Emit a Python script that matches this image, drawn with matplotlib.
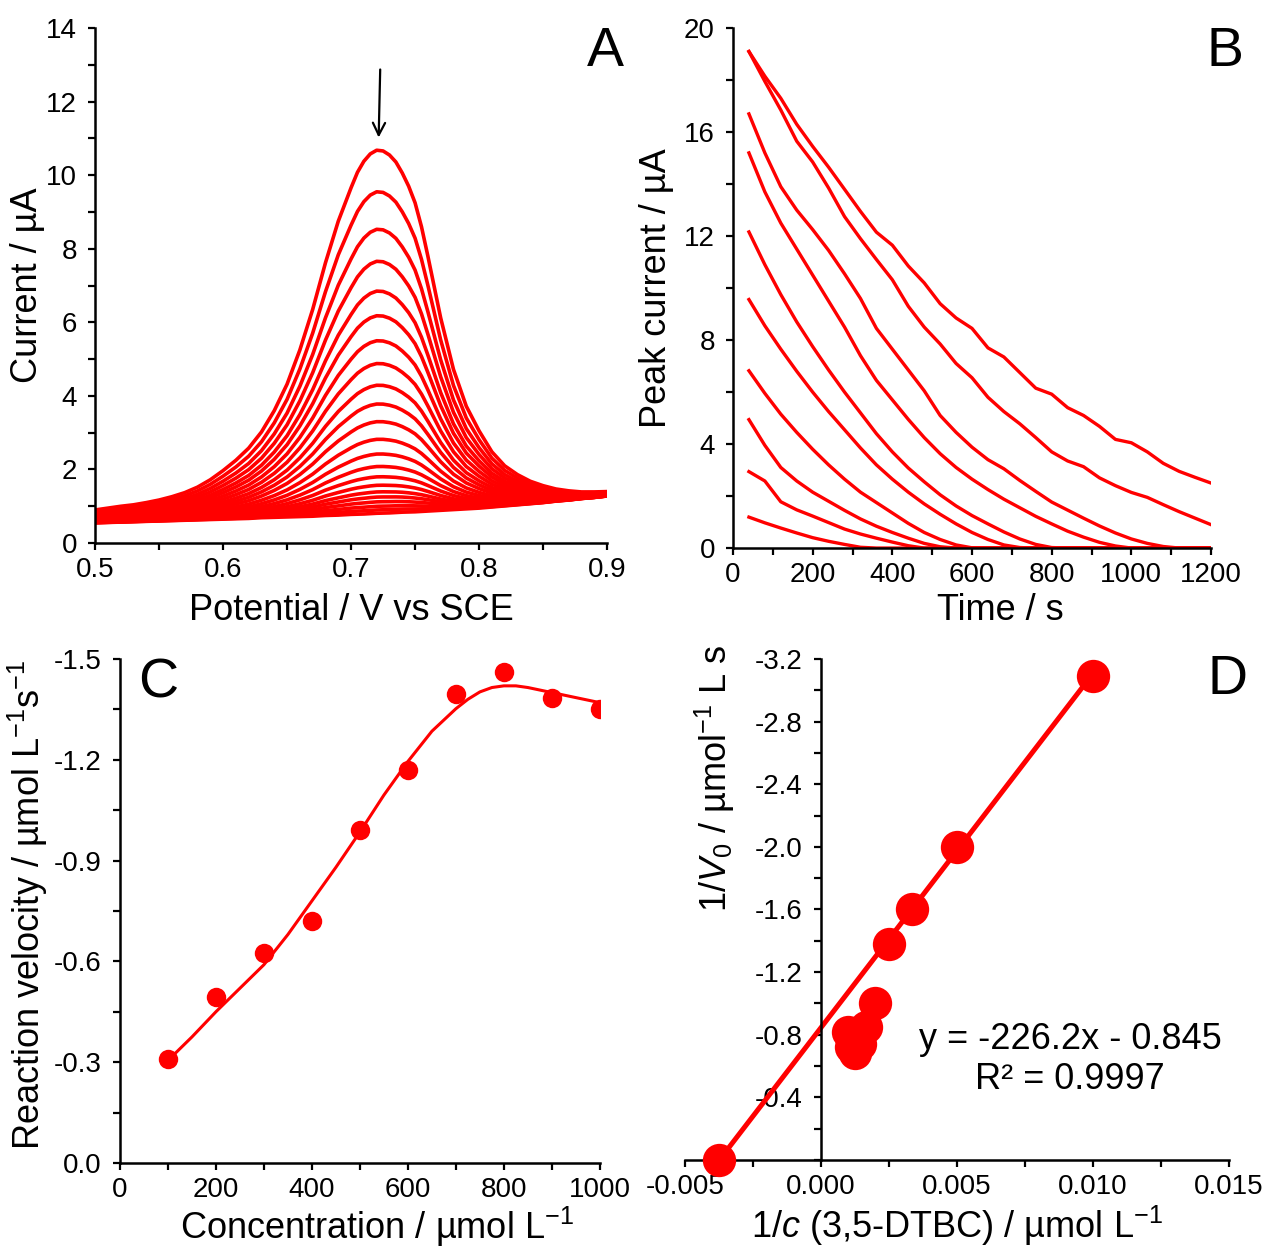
import matplotlib
matplotlib.use("Agg")
import matplotlib.pyplot as plt
import numpy as np
from matplotlib.ticker import MultipleLocator, FormatStrFormatter, FuncFormatter

plt.rcParams.update({
    "font.family": ["Liberation Sans", "DejaVu Sans"],
    "mathtext.fontset": "custom",
    "mathtext.rm": "Liberation Sans",
    "mathtext.it": "Liberation Sans:italic",
    "axes.unicode_minus": False,
    "axes.linewidth": 1.8,
    "xtick.direction": "out",
    "ytick.direction": "out",
    "xtick.major.size": 5, "xtick.minor.size": 5,
    "ytick.major.size": 5, "ytick.minor.size": 5,
    "xtick.major.width": 1.6, "xtick.minor.width": 1.6,
    "ytick.major.width": 1.6, "ytick.minor.width": 1.6,
    "xtick.labelsize": 20, "ytick.labelsize": 20,
    "xtick.major.pad": 5, "ytick.major.pad": 8,
})

RED = "#ff0000"

# ---- panel A: voltammograms (outermost curve, baseline, peak heights) ----
potential = [0.50, 0.51, 0.52, 0.53, 0.54, 0.55, 0.56, 0.57, 0.58, 0.59,
             0.60, 0.61, 0.62, 0.63, 0.64, 0.65, 0.66, 0.67, 0.68, 0.69,
             0.70, 0.705, 0.71, 0.715, 0.72, 0.725, 0.73, 0.735, 0.74, 0.745,
             0.75, 0.755, 0.76, 0.77, 0.78, 0.79,
             0.80, 0.81, 0.82, 0.83, 0.84, 0.85, 0.86, 0.87, 0.88, 0.89, 0.90]
top_curve = [0.90, 0.95, 1.00, 1.04, 1.10, 1.17, 1.26, 1.37, 1.52, 1.72,
             1.97, 2.25, 2.58, 3.02, 3.60, 4.32, 5.25, 6.35, 7.62, 8.75,
             9.66, 10.08, 10.38, 10.58, 10.68, 10.66, 10.55, 10.36, 10.06, 9.70,
             9.25, 8.60, 7.80, 6.12, 4.72, 3.72,
             3.05, 2.48, 2.10, 1.86, 1.68, 1.56, 1.47, 1.42, 1.39, 1.39, 1.40]
base_curve = [0.55, 0.56, 0.57, 0.58, 0.59, 0.60, 0.61, 0.62, 0.63, 0.64,
              0.65, 0.66, 0.67, 0.69, 0.70, 0.71, 0.72, 0.73, 0.75, 0.76,
              0.78, 0.785, 0.79, 0.80, 0.81, 0.815, 0.82, 0.83, 0.84, 0.845,
              0.85, 0.86, 0.87, 0.89, 0.91, 0.93,
              0.95, 0.98, 1.01, 1.04, 1.07, 1.10, 1.14, 1.17, 1.21, 1.24, 1.28]
peak_heights = [10.68, 9.55, 8.53, 7.66, 6.85, 6.18, 5.50, 4.88, 4.29, 3.78,
                3.30, 2.82, 2.42, 2.08, 1.80, 1.57, 1.39, 1.25, 1.12, 1.00,
                0.90, 0.81]

# ---- panel B: peak current vs time ----
time_s = [40, 80, 120, 160, 200, 240, 280, 320, 360, 400, 440, 480, 520, 560, 600,
          640, 680, 720, 760, 800, 840, 880, 920, 960, 1000, 1040, 1080, 1120, 1160, 1200]
peak_series = [
    [19.10, 18.15, 17.30, 16.30, 15.45, 14.65, 13.80, 12.95, 12.15, 11.65, 10.85, 10.20, 9.40, 8.85, 8.45,
     7.70, 7.35, 6.75, 6.15, 5.92, 5.40, 5.10, 4.68, 4.18, 4.05, 3.70, 3.26, 2.95, 2.72, 2.50],
    [19.10, 17.95, 16.85, 15.65, 14.85, 13.85, 12.75, 11.90, 11.10, 10.32, 9.30, 8.50, 7.85, 7.10, 6.55,
     5.80, 5.25, 4.78, 4.25, 3.70, 3.35, 3.13, 2.70, 2.40, 2.14, 1.95, 1.67, 1.40, 1.15, 0.90],
    [16.70, 15.20, 13.90, 13.00, 12.25, 11.45, 10.55, 9.60, 8.45, 7.65, 6.85, 6.05, 5.10, 4.45, 3.88,
     3.40, 3.05, 2.60, 2.18, 1.77, 1.46, 1.15, 0.85, 0.58, 0.35, 0.18, 0.06, 0.00, 0.00, 0.00],
    [15.20, 13.70, 12.50, 11.50, 10.50, 9.50, 8.50, 7.40, 6.45, 5.70, 4.95, 4.25, 3.63, 3.10, 2.65,
     2.25, 1.88, 1.55, 1.22, 0.93, 0.65, 0.42, 0.22, 0.08, 0.00, 0.00, 0.00, 0.00, 0.00, 0.00],
    [12.16, 10.90, 9.75, 8.70, 7.75, 6.85, 6.00, 5.20, 4.40, 3.70, 3.08, 2.55, 2.05, 1.62, 1.25,
     0.93, 0.62, 0.35, 0.14, 0.02, 0.00, 0.00, 0.00, 0.00, 0.00, 0.00, 0.00, 0.00, 0.00, 0.00],
    [9.56, 8.55, 7.65, 6.80, 6.00, 5.25, 4.55, 3.85, 3.20, 2.65, 2.15, 1.70, 1.30, 0.93, 0.60,
     0.33, 0.12, 0.02, 0.00, 0.00, 0.00, 0.00, 0.00, 0.00, 0.00, 0.00, 0.00, 0.00, 0.00, 0.00],
    [6.82, 5.95, 5.15, 4.45, 3.80, 3.20, 2.65, 2.15, 1.75, 1.35, 0.95, 0.60, 0.33, 0.12, 0.01,
     0.00, 0.00, 0.00, 0.00, 0.00, 0.00, 0.00, 0.00, 0.00, 0.00, 0.00, 0.00, 0.00, 0.00, 0.00],
    [4.94, 3.95, 3.10, 2.58, 2.15, 1.80, 1.45, 1.12, 0.84, 0.60, 0.38, 0.18, 0.05, 0.00, 0.00,
     0.00, 0.00, 0.00, 0.00, 0.00, 0.00, 0.00, 0.00, 0.00, 0.00, 0.00, 0.00, 0.00, 0.00, 0.00],
    [2.94, 2.58, 1.78, 1.47, 1.23, 0.98, 0.73, 0.54, 0.38, 0.23, 0.09, 0.00, 0.00, 0.00, 0.00,
     0.00, 0.00, 0.00, 0.00, 0.00, 0.00, 0.00, 0.00, 0.00, 0.00, 0.00, 0.00, 0.00, 0.00, 0.00],
    [1.19, 0.97, 0.77, 0.58, 0.40, 0.26, 0.14, 0.03, 0.00, 0.00, 0.00, 0.00, 0.00, 0.00, 0.00,
     0.00, 0.00, 0.00, 0.00, 0.00, 0.00, 0.00, 0.00, 0.00, 0.00, 0.00, 0.00, 0.00, 0.00, 0.00],
]

# ---- panel C: reaction velocity vs concentration ----
conc = [100, 200, 300, 400, 500, 600, 700, 800, 900, 1000]
velocity = [-0.31, -0.495, -0.625, -0.72, -0.99, -1.17, -1.395, -1.46, -1.385, -1.35]
fit_conc = [100, 150, 200, 250, 300, 350, 400, 450, 500, 550, 600, 650, 700, 725, 750, 775,
            800, 825, 850, 900, 950, 1000]
fit_velocity = [-0.305, -0.375, -0.45, -0.52, -0.59, -0.68, -0.78, -0.88, -0.985, -1.095, -1.195,
                -1.285, -1.352, -1.380, -1.402, -1.415, -1.420, -1.420, -1.415, -1.40, -1.385, -1.37]

# ---- panel D: Lineweaver-Burk ----
inv_conc = [-0.00374, 0.0100, 0.0050, 0.00333, 0.0025, 0.0020, 0.00167, 0.00143, 0.00125, 0.00111, 0.0010]
inv_velocity = [0.0, -3.09, -2.00, -1.60, -1.38, -1.00, -0.85, -0.74, -0.68, -0.72, -0.82]
slope, intercept = -226.2, -0.845
line_x = [-0.00374, 0.0100]

fig = plt.figure(figsize=(12.64, 12.49), dpi=100)


def clean(ax):
    ax.spines["top"].set_visible(False)
    ax.spines["right"].set_visible(False)
    ax.tick_params(which="both", colors="black")


# Panel A
axA = fig.add_axes([0.0752, 0.5652, 0.4051, 0.4123])
clean(axA)
pot = np.array(potential)
top = np.array(top_curve)
base = np.array(base_curve)
i72 = potential.index(0.72)
top72, base72 = top_curve[i72], base_curve[i72]
for h in peak_heights:
    frac = (h - base72) / (top72 - base72)
    axA.plot(pot, base + (top - base) * frac, color=RED, lw=2.6, solid_joinstyle="round")
axA.set_xlim(0.5, 0.9)
axA.set_ylim(0, 14)
axA.xaxis.set_major_locator(MultipleLocator(0.1))
axA.xaxis.set_minor_locator(MultipleLocator(0.05))
axA.xaxis.set_major_formatter(FormatStrFormatter("%.1f"))
axA.yaxis.set_major_locator(MultipleLocator(2))
axA.yaxis.set_minor_locator(MultipleLocator(1))
axA.set_xlabel("Potential / V vs SCE", fontsize=26, va="baseline")
axA.set_ylabel("Current / µA", fontsize=26, va="center")
axA.xaxis.set_label_coords(0.5, -0.1495)
axA.yaxis.set_label_coords(-0.131, 0.5)
axA.annotate("", xy=(0.7215, 10.95), xytext=(0.7228, 12.95),
             arrowprops=dict(arrowstyle="->", color="black", lw=1.6, mutation_scale=22))
axA.text(0.996, 0.953, "A", transform=axA.transAxes, fontsize=40, ha="center", va="center")

# Panel B
axB = fig.add_axes([0.5799, 0.5612, 0.3782, 0.4163])
clean(axB)
for series in peak_series:
    axB.plot(time_s, series, color=RED, lw=2.4, solid_joinstyle="round")
axB.set_xlim(0, 1200)
axB.set_ylim(0, 20)
axB.xaxis.set_major_locator(MultipleLocator(200))
axB.xaxis.set_minor_locator(MultipleLocator(100))
axB.yaxis.set_major_locator(MultipleLocator(4))
axB.yaxis.set_minor_locator(MultipleLocator(2))
axB.set_xlabel("Time / s", fontsize=26, va="baseline")
axB.set_ylabel("Peak current / µA", fontsize=26, va="center")
axB.xaxis.set_label_coords(0.559, -0.1385)
axB.yaxis.set_label_coords(-0.159, 0.5)
axB.text(1.029, 0.954, "B", transform=axB.transAxes, fontsize=40, ha="center", va="center")

# Panel C
axC = fig.add_axes([0.0949, 0.0689, 0.3797, 0.4035])
clean(axC)
axC.plot(fit_conc, fit_velocity, color=RED, lw=2.2, zorder=2)
axC.plot(conc, velocity, "o", color=RED, ms=14, mec="none", zorder=3)
axC.set_xlim(0, 1000)
axC.set_ylim(0, -1.5)
axC.xaxis.set_major_locator(MultipleLocator(200))
axC.xaxis.set_minor_locator(MultipleLocator(100))
axC.yaxis.set_major_locator(MultipleLocator(0.3))
axC.yaxis.set_minor_locator(MultipleLocator(0.15))
axC.yaxis.set_major_formatter(FuncFormatter(lambda v, _: "%.1f" % (0.0 if abs(v) < 1e-9 else v)))
axC.set_xlabel("Concentration / µmol L$^{-1}$", fontsize=26, va="baseline")
axC.set_ylabel("Reaction velocity / µmol L$^{-1}$s$^{-1}$", fontsize=26, va="center")
axC.xaxis.set_label_coords(0.535, -0.1508)
axC.yaxis.set_label_coords(-0.192, 0.512)
axC.text(0.079, 0.952, "C", transform=axC.transAxes, fontsize=40, ha="center", va="center")

# Panel D
axD = fig.add_axes([0.5419, 0.0713, 0.4304, 0.4011])
clean(axD)
axD.spines["left"].set_position(("data", 0))
line_y = [slope * x + intercept for x in line_x]
axD.plot(line_x, line_y, color=RED, lw=3.6, zorder=2)
axD.plot(inv_conc, inv_velocity, "o", color=RED, ms=24, mec="none", zorder=3, clip_on=False)
axD.set_xlim(-0.005, 0.015)
axD.set_ylim(0, -3.2)
axD.xaxis.set_major_locator(MultipleLocator(0.005))
axD.xaxis.set_minor_locator(MultipleLocator(0.0025))
axD.xaxis.set_major_formatter(FormatStrFormatter("%.3f"))
axD.set_yticks([-3.2, -2.8, -2.4, -2.0, -1.6, -1.2, -0.8, -0.4])
axD.yaxis.set_minor_locator(MultipleLocator(0.2))
axD.yaxis.set_major_formatter(FormatStrFormatter("%.1f"))
axD.set_xlabel("1/$\\mathit{c}$ (3,5-DTBC) / µmol L$^{-1}$", fontsize=26, va="baseline")
axD.set_ylabel("1/$\\mathit{V}_0$ / µmol$^{-1}$ L s", fontsize=26, va="center")
axD.xaxis.set_label_coords(0.5, -0.1557)
axD.yaxis.set_label_coords(0.055, 0.762)
axD.text(0.708, 0.2395, "y = -226.2x - 0.845", transform=axD.transAxes,
         fontsize=26, ha="center", va="center")
axD.text(0.708, 0.16, "R² = 0.9997", transform=axD.transAxes,
         fontsize=26, ha="center", va="center")
axD.text(0.998, 0.958, "D", transform=axD.transAxes, fontsize=40, ha="center", va="center")

fig.savefig("out.png", dpi=100, facecolor="white")
